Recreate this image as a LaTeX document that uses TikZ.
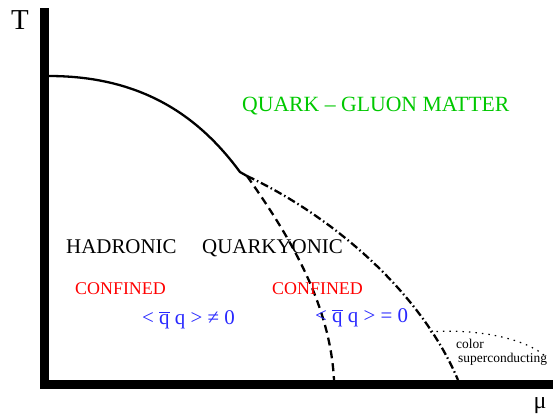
\documentclass[tikz,border=0pt]{standalone}
\usepackage{fontspec}
\setmainfont{Liberation Serif}
\definecolor{qgreen}{RGB}{0,200,0}
\definecolor{qblue}{RGB}{40,40,255}
\definecolor{qred}{RGB}{255,0,0}
\tikzset{
  lbl/.style={inner sep=0pt, anchor=base west, font=\fontsize{21}{21}\selectfont},
  redlbl/.style={lbl, text=qred, font=\fontsize{18}{18}\selectfont},
  bluelbl/.style={lbl, text=qblue},
  smalllbl/.style={inner sep=0pt, anchor=base west, font=\fontsize{13.5}{13.5}\selectfont},
  axis/.style={line width=9bp},
  phase/.style={line width=2.3bp},
}
\begin{document}
\begin{tikzpicture}[x=1bp,y=-1bp]
\useasboundingbox (0,0) rectangle (553,417);
% axes
\coordinate (otop) at (44.5,8);
\coordinate (ocorner) at (44.5,389);
\coordinate (ocornerh) at (40,384.5);
\coordinate (oright) at (553,384.5);
\draw[axis] (otop) -- (ocorner);
\draw[axis] (ocornerh) -- (oright);
% axis labels
\node[inner sep=0pt, font=\fontsize{29}{29}\selectfont] (T) at (20,20) {T};
\node[inner sep=0pt, font=\fontsize{24}{24}\selectfont] (mu) at (540,406) {μ};
% phase boundaries
\coordinate (tc) at (49,76);
\coordinate (kink) at (240,172);
\coordinate (cp) at (247,176);
\coordinate (dashend) at (334,380);
\coordinate (ddend) at (458,380);
\coordinate (csa) at (430,332);
\coordinate (csb) at (547,358);
\draw[phase] (tc) .. controls (148,76) and (203,122) .. (kink) -- (cp);
\draw[phase, dash pattern=on 8bp off 5bp] (cp) .. controls (285,230) and (330,300) .. (dashend);
\draw[phase, dash pattern=on 8bp off 3bp on 1.5bp off 3bp] (cp) .. controls (330,215) and (420,290) .. (ddend);
\draw[line width=1.2bp, dash pattern=on 1.5bp off 5bp] (csa) .. controls (480,328) and (530,340) .. (csb);
% labels
\node[lbl, text=qgreen, font=\fontsize{21.8}{21.8}\selectfont] (qgm) at (242,111) {QUARK – GLUON MATTER};
\node[lbl] (had) at (66,253) {HADRONIC};
\node[lbl] (qky) at (202,253) {QUARKYONIC};
\node[redlbl] (conf1) at (75,294) {CONFINED};
\node[redlbl] (conf2) at (272,294) {CONFINED};
\node[bluelbl] (chi1) at (142,324) {< $\overline{\mbox{q}}$ q > ≠ 0};
\node[bluelbl] (chi2) at (315,322) {< $\overline{\mbox{q}}$ q > = 0};
\node[smalllbl] (col) at (456,348) {color};
\node[smalllbl] (sc) at (458,362) {superconducting};
\end{tikzpicture}
\end{document}
